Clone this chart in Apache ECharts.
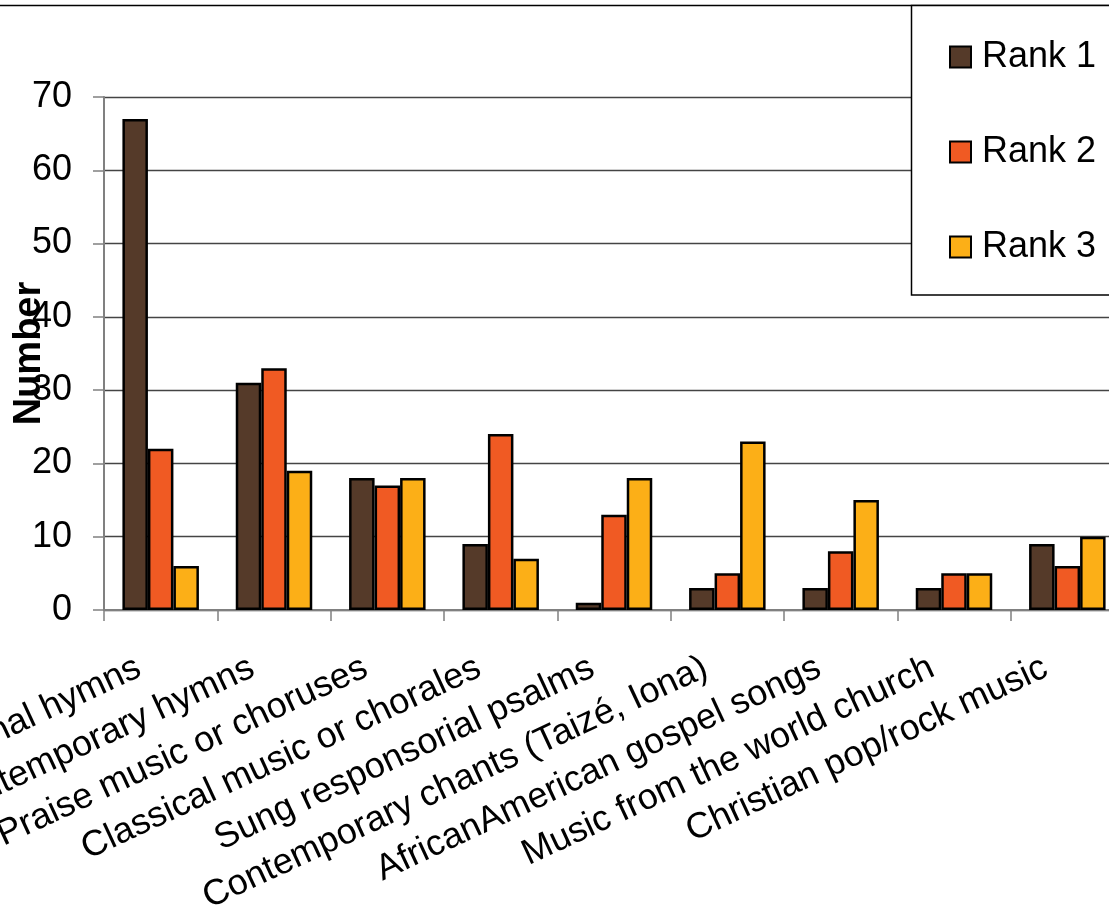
<!DOCTYPE html>
<html>
<head>
<meta charset="utf-8">
<script src="https://cdn.jsdelivr.net/npm/echarts@6/dist/echarts.min.js"></script>
<style>
html,body{margin:0;padding:0;background:#fff;}
#c{width:1109px;height:922px;}
</style>
</head>
<body>
<div id="c"></div>
<script>
const categories = ['Traditional hymns','Contemporary hymns','Praise music or choruses','Classical music or chorales','Sung responsorial psalms','Contemporary chants (Taizé, Iona)','AfricanAmerican gospel songs','Music from the world church','Christian pop/rock music'];
const seriesNames = ['Rank 1','Rank 2','Rank 3'];
const rank1 = [67,31,18,9,1,3,3,3,9];
const rank2 = [22,33,17,24,13,5,8,5,6];
const rank3 = [6,19,18,7,18,23,15,5,10];
const yMin = 0, yMax = 70, yInterval = 10;
const colors = ['#553A29','#F05A23','#FCAF17'];

const FONT = "'Liberation Sans', Arial, sans-serif";
const chart = echarts.init(document.getElementById('c'), null, {renderer:'canvas'});
const data = [rank1, rank2, rank3];
chart.setOption({
  animation: false,
  backgroundColor: '#fff',
  grid: {left: 104, top: 97, width: 1020, height: 513, containLabel: false, outerBoundsMode: 'none'},
  xAxis: {
    type: 'category',
    data: categories,
    boundaryGap: true,
    axisLine: {lineStyle: {color: '#808080', width: 2}},
    axisTick: {show: true, length: 11, lineStyle: {color: '#808080', width: 1.5}},
    axisLabel: {rotate: 25, interval: 0, margin: 46, padding: [0, 24, 0, 0], color: '#000', fontSize: 36, fontFamily: FONT}
  },
  yAxis: {
    type: 'value',
    min: yMin, max: yMax, interval: yInterval,
    name: 'Number',
    nameLocation: 'middle',
    nameRotate: 90,
    nameGap: 55,
    nameMoveOverlap: false,
    nameTextStyle: {fontSize: 38, fontWeight: 'bold', color: '#000', fontFamily: FONT},
    axisLine: {show: true, lineStyle: {color: '#808080', width: 2}},
    axisTick: {show: true, length: 11, lineStyle: {color: '#808080', width: 1.5}},
    axisLabel: {margin: 32, color: '#000', fontSize: 36, fontFamily: FONT},
    splitLine: {show: true, lineStyle: {color: '#444', width: 1.3}}
  },
  legend: {
    orient: 'vertical',
    left: 944, top: 34,
    itemWidth: 21, itemHeight: 21,
    itemGap: 59,
    icon: 'rect',
    textStyle: {fontSize: 36, color: '#000', fontFamily: FONT, padding: [0,0,0,6]},
    data: seriesNames,
    z: 20
  },
  graphic: [
    {type: 'line', shape: {x1: 0, y1: 5.5, x2: 1109, y2: 5.5}, style: {stroke: '#000', lineWidth: 1.5}, z: 15},
    {type: 'rect', shape: {x: 911.5, y: 5.5, width: 300, height: 289.5}, style: {fill: '#fff', stroke: '#000', lineWidth: 1.5}, z: 15}
  ],
  series: seriesNames.map((n, i) => ({
    name: n,
    type: 'bar',
    data: data[i],
    barWidth: 25.5,
    barGap: '0%',
    itemStyle: {color: colors[i], borderColor: '#000', borderWidth: 2.5},
    z: 3
  }))
});
</script>
</body>
</html>
